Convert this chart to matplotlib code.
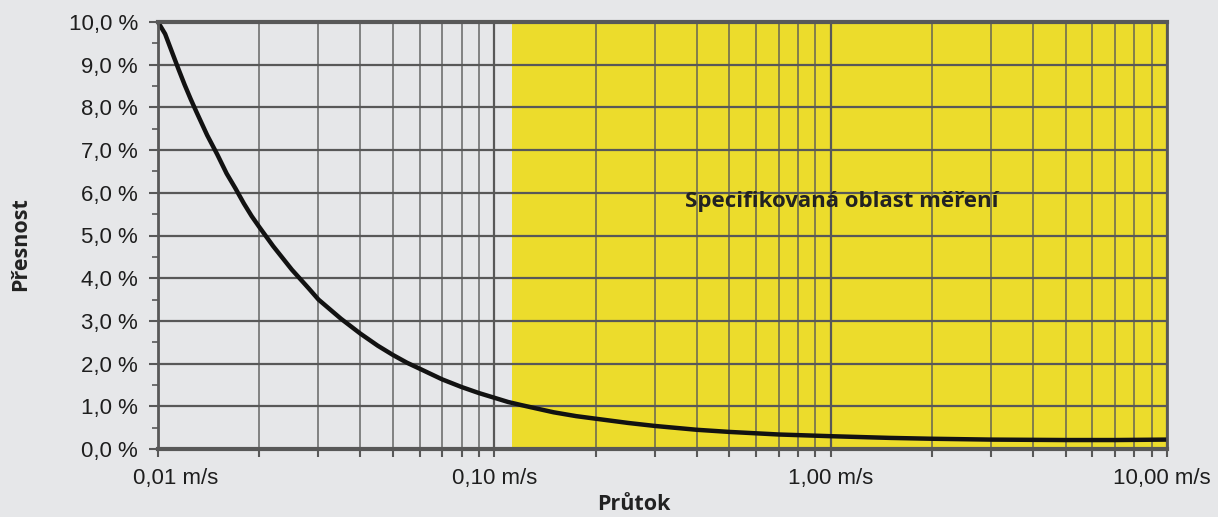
import matplotlib

matplotlib.use("Agg")
import matplotlib.pyplot as plt
from matplotlib.ticker import FixedLocator, LogLocator, NullFormatter
from matplotlib.transforms import ScaledTranslation

# flow velocity [m/s] and accuracy [%]
velocity = [0.0100, 0.0105, 0.0110, 0.0115, 0.0120, 0.0125, 0.0130, 0.0140,
            0.0150, 0.0160, 0.0170, 0.0180, 0.0190, 0.0200, 0.0220, 0.0250,
            0.0280, 0.0300, 0.0350, 0.0400, 0.0450, 0.0500, 0.0550, 0.0600,
            0.0700, 0.0800, 0.0900, 0.100, 0.110, 0.120, 0.135, 0.150,
            0.175, 0.200, 0.250, 0.300, 0.400, 0.500, 0.700, 1.00,
            1.50, 2.00, 3.00, 5.00, 7.00, 10.0]
accuracy = [10.0, 9.72, 9.3, 8.9, 8.53, 8.2, 7.9, 7.35,
            6.9, 6.45, 6.1, 5.75, 5.45, 5.2, 4.75, 4.2,
            3.77, 3.5, 3.05, 2.7, 2.42, 2.2, 2.02, 1.88,
            1.63, 1.45, 1.31, 1.2, 1.1, 1.03, 0.94, 0.86,
            0.77, 0.71, 0.61, 0.54, 0.45, 0.40, 0.34, 0.30,
            0.26, 0.24, 0.22, 0.21, 0.21, 0.22]

spec_range = (0.1125, 10.0)
spec_label = "Specifikovaná oblast měření"

x_ticks = [0.01, 0.1, 1.0, 10.0]
x_tick_labels = ["0,01 m/s", "0,10 m/s", "1,00 m/s", "10,00 m/s"]
y_ticks = list(range(0, 11))
y_tick_labels = [f"{v},0 %" for v in y_ticks]

BG = "#e6e7e9"
GRID = "#585858"
YELLOW = "#ecdc2c"
BOLD_FONT = ["Open Sans", "Lato", "DejaVu Sans"]

fig = plt.figure(figsize=(12.18, 5.17), dpi=100, facecolor=BG)
ax = fig.add_axes([158 / 1218, 1 - 449 / 517, (1167 - 158) / 1218, (449 - 22) / 517])
ax.set_facecolor(BG)

ax.set_xscale("log")
ax.set_xlim(0.01, 10.0)
ax.set_ylim(0, 10)

# specified measuring range
ax.axvspan(*spec_range, color=YELLOW, lw=0, zorder=0)

# grid
for v in y_ticks:
    ax.axhline(v, color=GRID, lw=1.6, zorder=1)
minor_x = [m * 10.0 ** e for e in (-2, -1, 0) for m in range(2, 10)]
for v in minor_x:
    ax.axvline(v, color=GRID, lw=1.1, alpha=0.9, zorder=1)
for v in x_ticks:
    ax.axvline(v, color=GRID, lw=1.6, zorder=1)

ax.plot(velocity, accuracy, color="#121212", lw=3.2, solid_capstyle="butt",
        solid_joinstyle="round", zorder=3, clip_on=False)

ax.text(1.08, 5.8, spec_label, ha="center", va="center", fontsize=16,
        fontweight="bold", family=BOLD_FONT, color="#222222", zorder=4)

# axes, ticks
for side, lw in (("top", 3.0), ("bottom", 3.0), ("left", 2.0), ("right", 2.0)):
    ax.spines[side].set_color(GRID)
    ax.spines[side].set_linewidth(lw)
    ax.spines[side].set_zorder(5)

ax.xaxis.set_major_locator(FixedLocator(x_ticks))
ax.set_xticklabels(x_tick_labels)
ax.xaxis.set_minor_locator(LogLocator(base=10, subs=range(2, 10)))
ax.xaxis.set_minor_formatter(NullFormatter())
ax.set_yticks(y_ticks)
ax.set_yticklabels(y_tick_labels)
ax.yaxis.set_minor_locator(FixedLocator([v + 0.5 for v in y_ticks[:-1]]))

ax.tick_params(axis="x", which="both", direction="out", length=6, width=1.5,
               color=GRID, pad=8, labelsize=16, labelcolor="#1e1e1e")
ax.tick_params(axis="y", which="major", direction="out", length=6.5, width=1.5,
               color=GRID, pad=8, labelsize=16, labelcolor="#1e1e1e")
ax.tick_params(axis="y", which="minor", direction="out", length=4, width=1.2, color=GRID)
for lab in ax.get_xticklabels() + ax.get_yticklabels():
    lab.set_family("Liberation Sans")

# first and last x labels sit nudged inwards, as in the source
labels = ax.get_xticklabels()
labels[0].set_transform(labels[0].get_transform() + ScaledTranslation(0.18, 0, fig.dpi_scale_trans))
labels[-1].set_transform(labels[-1].get_transform() + ScaledTranslation(-0.05, 0, fig.dpi_scale_trans))

fig.text(634 / 1218, 1 - 505 / 517, "Průtok", ha="center", va="center",
         fontsize=15.5, fontweight="bold", family=BOLD_FONT, color="#222222")
fig.text(21 / 1218, 1 - 244 / 517, "Přesnost", ha="center", va="center", rotation=90,
         fontsize=15.5, fontweight="bold", family=BOLD_FONT, color="#222222")

fig.savefig("out.png", dpi=100, facecolor=BG)
